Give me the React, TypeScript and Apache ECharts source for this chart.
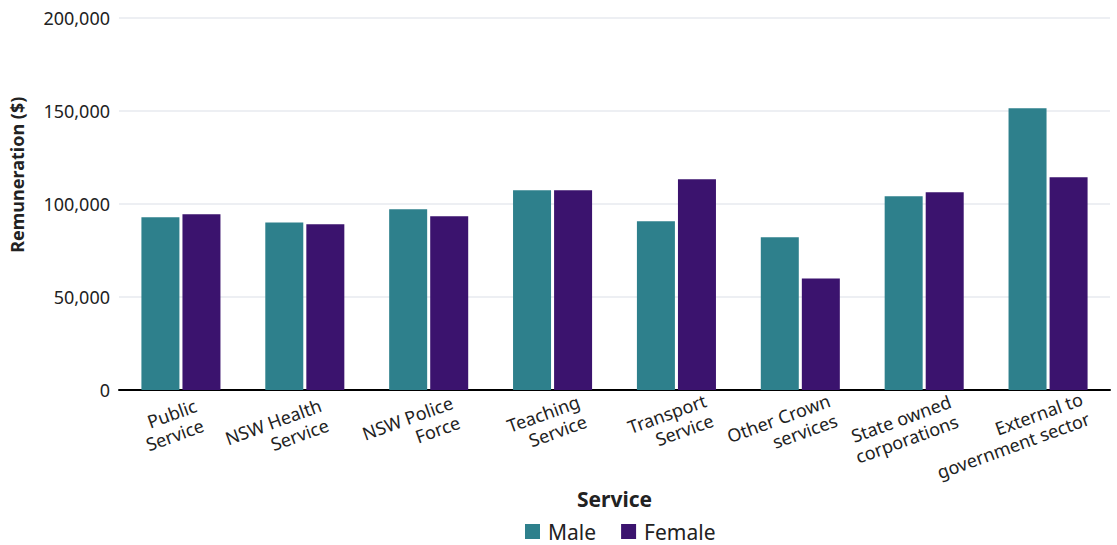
import React, { useEffect, useRef } from "react";
import * as echarts from "echarts";

const categories = [
  "Public\nService",
  "NSW Health\nService",
  "NSW Police\nForce",
  "Teaching\nService",
  "Transport\nService",
  "Other Crown\nservices",
  "State owned\ncorporations",
  "External to\ngovernment sector",
];
const maleValues = [92700, 90000, 97000, 107300, 90600, 82000, 104000, 151300];
const femaleValues = [94400, 89000, 93300, 107300, 113200, 59900, 106200, 114200];
const seriesNames = ["Male", "Female"];
const yTicks = { min: 0, max: 200000, interval: 50000 };

const FONT = "'Noto Sans', sans-serif";
// per-label shift along the rotated baseline (layout only)
const labelShift = [12, 13, 21, 24, 27, 27, 24, 32];
const BASE_SHIFT = 40;

export default function App() {
  const ref = useRef<HTMLDivElement>(null);
  useEffect(() => {
    document.body.style.margin = "0";
    if (!ref.current) return;
    const chart = echarts.init(ref.current, null, { renderer: "svg" });
    const rich: Record<string, any> = {
      t: { fontSize: 18, lineHeight: 21, color: "#222", fontFamily: FONT },
    };
    labelShift.forEach((s, i) => {
      rich["s" + i] = { width: BASE_SHIFT - s, fontSize: 18, lineHeight: 21, fontFamily: FONT };
    });
    chart.setOption({
      animation: false,
      textStyle: { fontFamily: FONT },
      grid: { left: 117, right: 7, top: 17.5, bottom: 155, containLabel: false },
      legend: {
        data: seriesNames,
        top: 521,
        left: 525,
        padding: 0,
        icon: "rect",
        itemWidth: 15,
        itemHeight: 15,
        itemGap: 25,
        textStyle: { fontSize: 21, color: "#222", fontFamily: FONT, padding: [0, 0, 0, 3] },
      },
      xAxis: {
        type: "category",
        data: categories,
        name: "Service",
        nameLocation: "middle",
        nameGap: 74,
        nameTextStyle: { fontSize: 21, fontWeight: "bold", color: "#222", fontFamily: FONT },
        axisLine: { lineStyle: { color: "#000", width: 2 } },
        axisTick: { inside: true, length: 8, lineStyle: { color: "#000", width: 2 } },
        axisLabel: {
          rotate: 20,
          interval: 0,
          align: "right",
          verticalAlign: "top",
          margin: 9,
          padding: [0, -BASE_SHIFT, 0, 0],
          fontSize: 18,
          lineHeight: 21,
          color: "#222",
          fontFamily: FONT,
          formatter: (value: string, index: number) =>
            value
              .split("\n")
              .map((line) => `{t|${line}}{s${index}| }`)
              .join("\n"),
          rich,
        },
      },
      yAxis: {
        type: "value",
        min: yTicks.min,
        max: yTicks.max,
        interval: yTicks.interval,
        name: "Remuneration ($)",
        nameLocation: "middle",
        nameGap: 93,
        nameTextStyle: {
          fontSize: 18,
          fontWeight: "bold",
          color: "#222",
          fontFamily: FONT,
          padding: [0, 0, 0, 58],
        },
        axisLine: { show: false },
        axisTick: { show: false },
        axisLabel: {
          margin: 9,
          fontSize: 18,
          color: "#222",
          fontFamily: FONT,
          formatter: (v: number) => v.toLocaleString("en-US"),
        },
        splitLine: { lineStyle: { color: "#edeff3", width: 2 } },
      },
      series: [
        {
          name: seriesNames[0],
          type: "bar",
          data: maleValues,
          barWidth: 38,
          barGap: "8%",
          itemStyle: { color: "#2E808C" },
        },
        {
          name: seriesNames[1],
          type: "bar",
          data: femaleValues,
          barWidth: 38,
          barGap: "8%",
          itemStyle: { color: "#3B136E" },
        },
      ],
    });
    return () => chart.dispose();
  }, []);
  return <div ref={ref} style={{ width: 1117, height: 545 }} />;
}
